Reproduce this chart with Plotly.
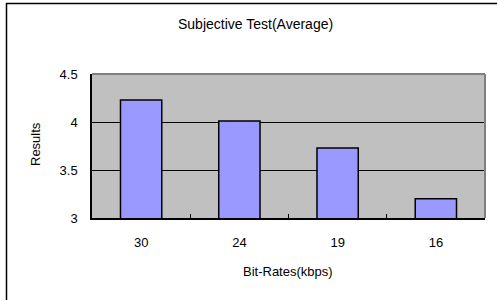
import plotly.graph_objects as go

categories = ["30", "24", "19", "16"]
values = [4.23, 4.01, 3.73, 3.2]
y_ticks = [3, 3.5, 4, 4.5]
y_tick_labels = ["3", "3.5", "4", "4.5"]

FONT = "Liberation Sans, Arial, sans-serif"

fig = go.Figure(go.Bar(
    x=categories, y=values,
    marker=dict(color="#9999FF", line=dict(color="black", width=1.5)),
    width=0.42,
))

W, H = 497, 300
L, R, T, B = 92, 12, 74, 82
pw, ph = W - L - R, H - T - B

def px(x):
    return (x - L) / pw

def py(y):
    return (H - B - y) / ph

fig.update_layout(
    width=W, height=H,
    margin=dict(l=L, r=R, t=T, b=B),
    paper_bgcolor="white",
    plot_bgcolor="#C0C0C0",
    showlegend=False,
    font=dict(family=FONT, size=13, color="black"),
    xaxis=dict(
        type="category",
        showline=True, linecolor="black", linewidth=1.5,
        ticks="inside", tickson="boundaries", ticklen=4, tickcolor="black",
        showgrid=False,
        tickfont=dict(size=13),
        ticklabelstandoff=12,
    ),
    yaxis=dict(
        range=[3, 4.5],
        tickvals=y_ticks, ticktext=y_tick_labels,
        showline=True, linecolor="black", linewidth=1.5,
        showgrid=True, gridcolor="black", gridwidth=1,
        zeroline=False,
        ticks="", tickfont=dict(size=13),
        ticklabelstandoff=10,
    ),
    shapes=[
        dict(type="line", xref="paper", yref="paper", x0=0, x1=1, y0=1, y1=1,
             line=dict(color="#808080", width=2)),
        dict(type="line", xref="paper", yref="paper", x0=1, x1=1, y0=0, y1=1,
             line=dict(color="#808080", width=2)),
        dict(type="rect", xref="paper", yref="paper",
             x0=px(6.5), x1=px(505), y0=py(310), y1=py(3.5),
             line=dict(color="black", width=1.5), fillcolor="rgba(0,0,0,0)"),
    ],
    annotations=[
        dict(text="Subjective Test(Average)", xref="paper", yref="paper",
             x=px(255), y=py(24), showarrow=False, xanchor="center", yanchor="middle",
             font=dict(size=14)),
        dict(text="Results", xref="paper", yref="paper",
             x=px(35), y=py(144), showarrow=False, xanchor="center", yanchor="middle",
             textangle=-90, font=dict(size=13)),
        dict(text="Bit-Rates(kbps)", xref="paper", yref="paper",
             x=px(288), y=py(271), showarrow=False, xanchor="center", yanchor="middle",
             font=dict(size=13)),
    ],
)

fig.write_html("out.html", config={"displayModeBar": False},
               post_script="document.body.style.margin='0';document.body.style.overflow='hidden';")
